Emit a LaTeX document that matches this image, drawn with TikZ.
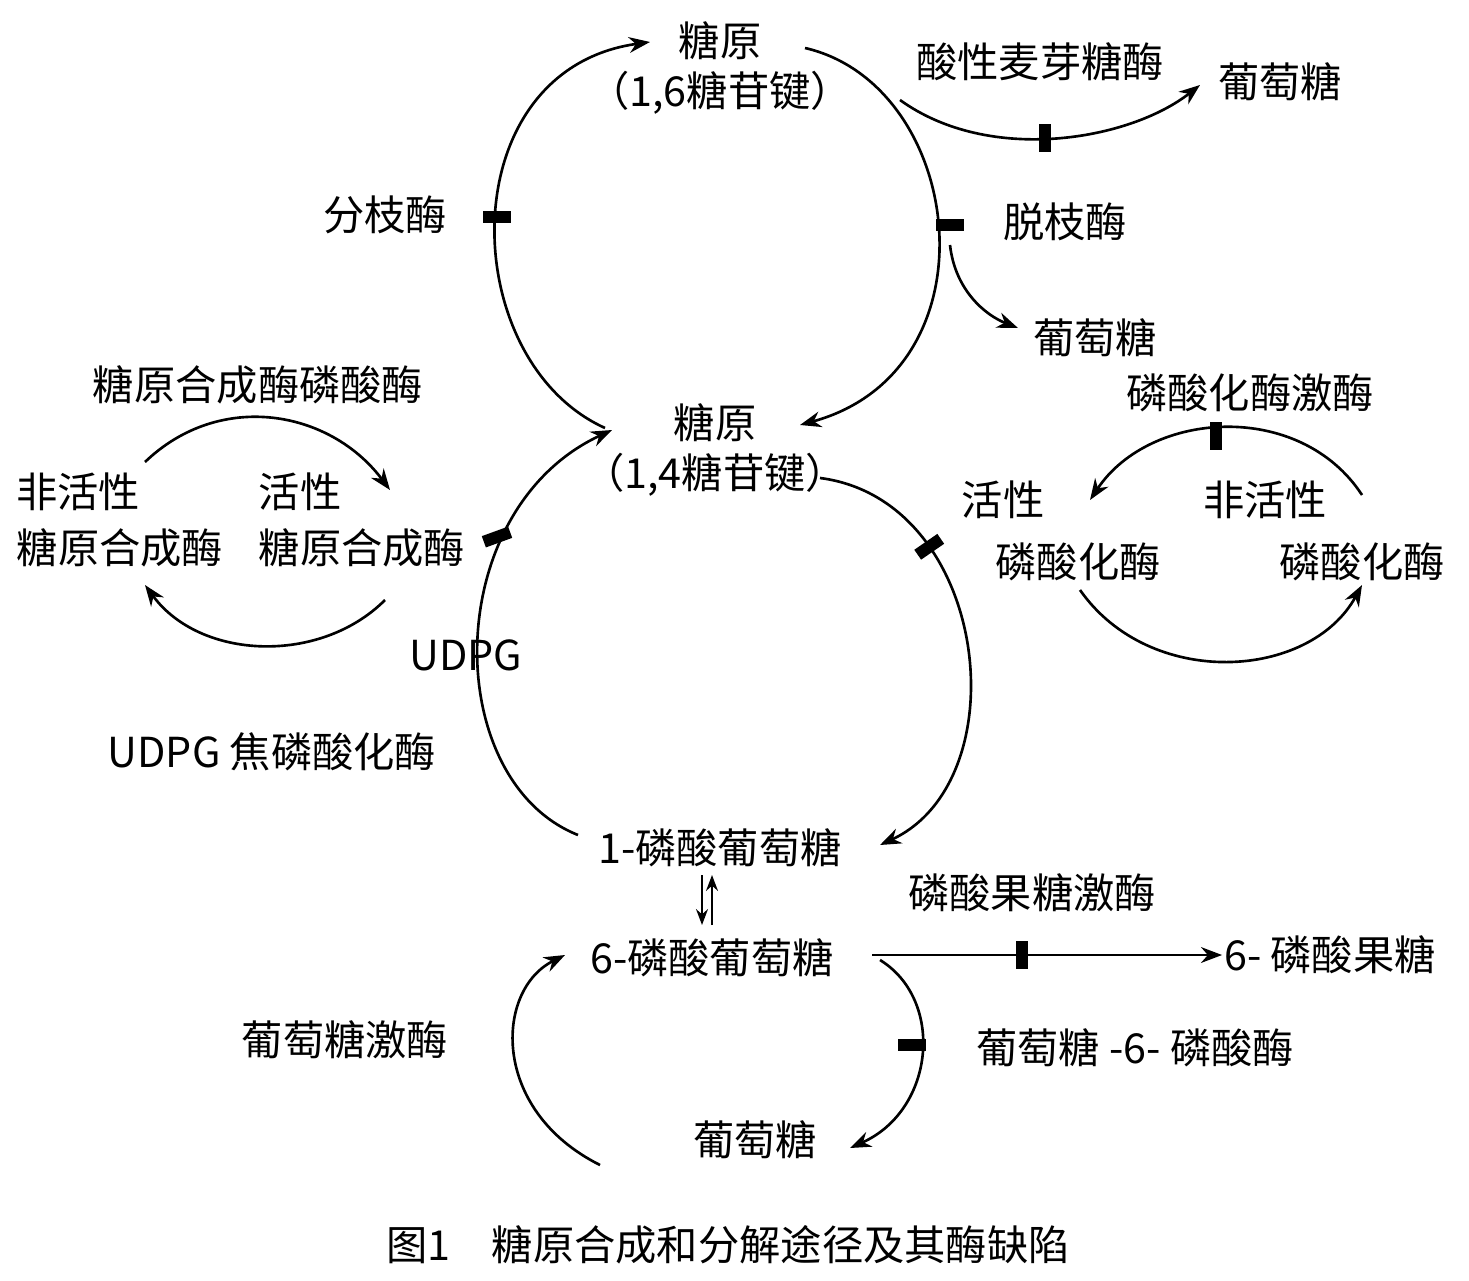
\documentclass[tikz,border=0pt]{standalone}
\usepackage{fontspec}
\setmainfont{Noto Sans CJK SC}
\usetikzlibrary{arrows.meta}
\begin{document}
\begin{tikzpicture}[x=0.02cm,y=-0.02cm,
  t/.style={font=\fontsize{23.5}{28}\selectfont,align=center,inner sep=1pt},
  c/.style={line width=1.5pt,-{Stealth[length=12pt,width=9pt]}},
  bar/.style={fill=black,minimum width=28*0.02cm,minimum height=12*0.02cm,inner sep=0pt}]
\useasboundingbox (0,0) rectangle (1469,1280);
% nodes
\node[t] (g16) at (720,68) {糖原\\（1,6糖苷键）};
\node[t] (g14) at (715,450) {糖原\\（1,4糖苷键）};
\node[t] (g1p) at (720,848) {1-磷酸葡萄糖};
\node[t] (g6p) at (712,958) {6-磷酸葡萄糖};
\node[t] (glcb) at (755,1140) {葡萄糖};
\node[t] (f6p) at (1330,955) {6- 磷酸果糖};
\node[t] (glct) at (1280,82) {葡萄糖};
\node[t] (glcm) at (1095,338) {葡萄糖};
\node[t] (am) at (1040,62) {酸性麦芽糖酶};
\node[t] (be) at (385,215) {分枝酶};
\node[t] (de) at (1065,222) {脱枝酶};
\node[t] (pk) at (1250,393) {磷酸化酶激酶};
\node[t] (ap1) at (1003,500) {活性};
\node[t] (ap2) at (1078,562) {磷酸化酶};
\node[t] (ip1) at (1265,500) {非活性};
\node[t] (ip2) at (1362,562) {磷酸化酶};
\node[t] (gsp) at (258,385) {糖原合成酶磷酸酶};
\node[t] (is1) at (78,492) {非活性};
\node[t] (is2) at (120,548) {糖原合成酶};
\node[t] (as1) at (300,492) {活性};
\node[t] (as2) at (362,548) {糖原合成酶};
\node[t] (udpg) at (466,655) {UDPG};
\node[t] (udpgp) at (272,752) {UDPG 焦磷酸化酶};
\node[t] (pfk) at (1032,893) {磷酸果糖激酶};
\node[t] (g6pase) at (1135,1048) {葡萄糖 -6- 磷酸酶};
\node[t] (gk) at (345,1040) {葡萄糖激酶};
\node[t] (cap) at (728,1245) {图1\quad 糖原合成和分解途径及其酶缺陷};
% coordinates
\coordinate (a1) at (605,428); \coordinate (a2) at (650,42);
\coordinate (b1) at (805,48); \coordinate (b2) at (800,425);
\coordinate (c1) at (900,100); \coordinate (c2) at (1200,85);
\coordinate (d1) at (950,245); \coordinate (d2) at (1018,328);
\coordinate (e1) at (578,835); \coordinate (e2) at (612,430);
\coordinate (f1) at (820,478); \coordinate (f2) at (880,845);
% upper circle
\draw[c] (a1) .. controls (455,360) and (450,70) .. (a2);
\draw[c] (b1) .. controls (965,85) and (1000,370) .. (b2);
\draw[c] (c1) .. controls (990,165) and (1130,140) .. (c2);
\draw[c] (d1) .. controls (955,290) and (985,315) .. (d2);
\node[bar] (bbe) at (497,217) {};
\node[bar] (bde) at (950,225) {};
\node[bar,rotate=90] (bam) at (1045,138) {};
% lower circle
\draw[c] (e1) .. controls (440,780) and (440,510) .. (e2);
\draw[c] (f1) .. controls (990,500) and (1020,780) .. node[bar,sloped,rotate=90,pos=0.28] (bph) {} (f2);
\node[bar,rotate=20] (bgs) at (497,537) {};
% left cycle
\draw[c] (145,462) .. controls (220,390) and (330,410) .. (390,490);
\draw[c] (385,600) .. controls (320,665) and (200,660) .. (145,585);
% right cycle
\draw[c] (1362,495) .. controls (1300,400) and (1150,410) .. (1090,500);
\draw[c] (1080,590) .. controls (1150,690) and (1310,680) .. (1362,585);
\node[bar,rotate=90] (bpk) at (1216,436) {};
% G1P <-> G6P
\draw[line width=1.4pt,-{Stealth[length=9pt]}] (702,875) -- (702,925);
\draw[line width=1.4pt,-{Stealth[length=9pt]}] (712,925) -- (712,875);
% G6P -> F6P
\draw[c] (872,955) -- (f6p.west);
\node[bar,rotate=90] (bpfk) at (1022,955) {};
% G6P -> glucose
\draw[c] (880,960) .. controls (945,1000) and (935,1110) .. (850,1148);
\node[bar] (bg6) at (912,1045) {};
% glucose -> G6P
\draw[c] (600,1165) .. controls (490,1110) and (495,990) .. (565,955);
\end{tikzpicture}
\end{document}
